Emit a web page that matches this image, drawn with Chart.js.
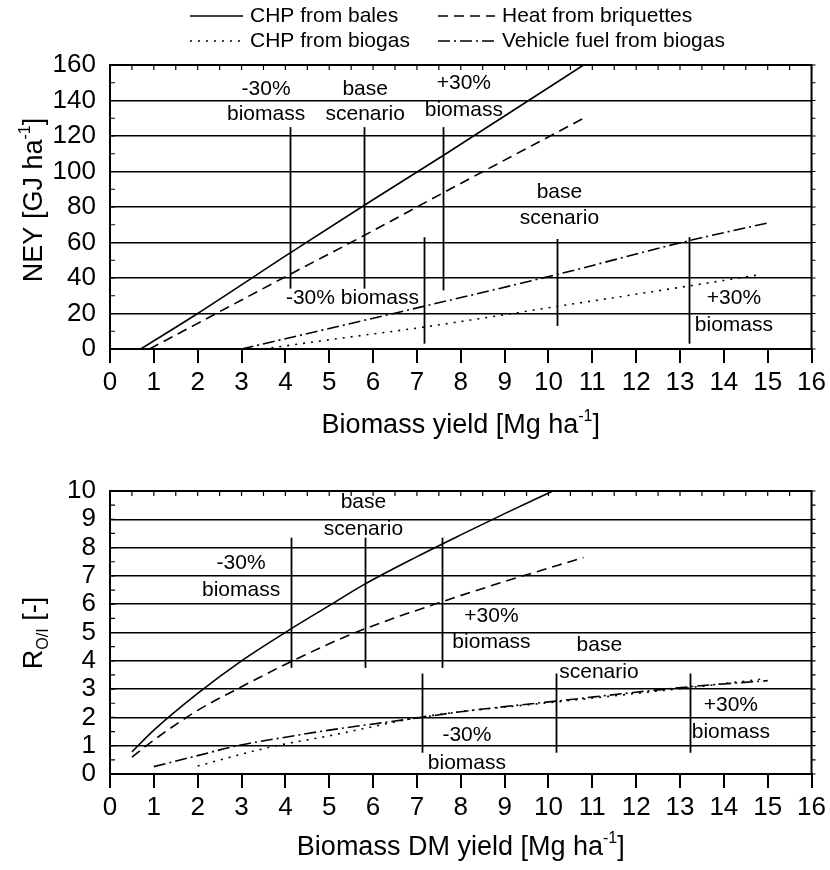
<!DOCTYPE html>
<html>
<head>
<meta charset="utf-8">
<script src="https://cdn.jsdelivr.net/npm/chart.js@4.4.1/dist/chart.umd.min.js"></script>
<style>
  html, body { margin: 0; padding: 0; background: #fff; }
  .box { position: absolute; left: 0; width: 830px; }
</style>
</head>
<body>
<div class="box" style="top:0;height:450px"><canvas id="ney" width="830" height="450"></canvas></div>
<div class="box" style="top:450px;height:420px"><canvas id="roi" width="830" height="420"></canvas></div>
<script>
/* ---------- data ---------- */
const seriesNames = ["CHP from bales", "Heat from briquettes", "CHP from biogas", "Vehicle fuel from biogas"];

// upper panel: NEY [GJ ha-1] vs biomass yield [Mg ha-1]
const neyBalesX = [0.7, 2, 4.1, 5.8, 7.6, 10.8];
const neyBalesY = [0, 20, 54, 81, 109, 160];
const neyBriqX = [0.9, 4.1, 5.8, 7.6, 10.8];
const neyBriqY = [0, 42, 64, 88, 130];
const neyBiogasX = [3.5, 5, 7.2, 10.2, 13.2, 14.85];
const neyBiogasY = [0, 5.2, 12.5, 24, 35.5, 42];
const neyFuelX = [3, 7.15, 10.2, 13.2, 15];
const neyFuelY = [0, 24, 42, 61, 71];

// lower panel: R O/I [-] vs biomass DM yield
const roiBalesX = [0.5, 1, 2, 3, 4.1, 5, 5.8, 7, 8, 9, 10.1];
const roiBalesY = [0.78, 1.55, 2.85, 4.0, 5.1, 5.95, 6.7, 7.68, 8.45, 9.2, 10];
const roiBriqX = [0.5, 1, 2, 2.9, 4.1, 5.6, 7.6, 9, 10.8];
const roiBriqY = [0.6, 1.2, 2.25, 3.0, 3.95, 5.0, 6.1, 6.8, 7.65];
const roiBiogasX = [2, 3, 3.8, 5, 7.05, 8, 10.2, 13.2, 14.85];
const roiBiogasY = [0.28, 0.7, 1.0, 1.35, 2.0, 2.2, 2.55, 3.05, 3.35];
const roiFuelX = [1, 2, 2.9, 4, 5, 7.1, 8, 10.2, 13.2, 15];
const roiFuelY = [0.26, 0.65, 1.0, 1.3, 1.55, 2.0, 2.2, 2.58, 3.08, 3.3];

// scenario marker lines (x, from, to)
const neyMarkerX = [4.1, 5.8, 7.6, 7.15, 10.2, 13.2];
const neyMarkerFrom = [34, 34, 33, 3, 13, 3];
const neyMarkerTo = [125, 125, 125, 63, 62, 63];
const roiMarkerX = [4.13, 5.82, 7.58, 7.12, 10.17, 13.23];
const roiMarkerFrom = [3.75, 3.75, 3.75, 0.75, 0.75, 0.75];
const roiMarkerTo = [8.35, 8.35, 8.35, 3.55, 3.55, 3.55];

// tick labels (min, max, step)
const xTicks = [0, 16, 1];
const neyTicks = [0, 160, 20];
const roiTicks = [0, 10, 1];

/* ---------- annotation text (placed in data units) ---------- */
const neyNotes = [
  { x: 3.56, y: 146.5, t: "-30%" }, { x: 3.56, y: 132.4, t: "biomass" },
  { x: 5.82, y: 146.5, t: "base" }, { x: 5.82, y: 132.4, t: "scenario" },
  { x: 8.07, y: 149.9, t: "+30%" }, { x: 8.07, y: 134.6, t: "biomass" },
  { x: 5.53, y: 28.7, t: "-30% biomass" },
  { x: 10.25, y: 88.6, t: "base" }, { x: 10.25, y: 73.8, t: "scenario" },
  { x: 14.23, y: 28.7, t: "+30%" }, { x: 14.23, y: 13.5, t: "biomass" }
];
const roiNotes = [
  { x: 2.99, y: 7.46, t: "-30%" }, { x: 2.99, y: 6.5, t: "biomass" },
  { x: 5.78, y: 9.59, t: "base" }, { x: 5.78, y: 8.66, t: "scenario" },
  { x: 8.7, y: 5.56, t: "+30%" }, { x: 8.7, y: 4.64, t: "biomass" },
  { x: 8.14, y: 1.38, t: "-30%" }, { x: 8.14, y: 0.39, t: "biomass" },
  { x: 11.16, y: 4.56, t: "base" }, { x: 11.15, y: 3.59, t: "scenario" },
  { x: 14.16, y: 2.44, t: "+30%" }, { x: 14.16, y: 1.49, t: "biomass" }
];

const FONT = '"Liberation Sans", Arial, Helvetica, sans-serif';
const dashes = [[], [10, 6], [2, 6], [12, 4, 2, 4]];

function pts(xs, ys) { return xs.map((x, i) => ({ x, y: ys[i] })); }

function makeSets(groups) {
  return groups.map((g, i) => ({
    label: seriesNames[i],
    data: pts(g[0], g[1]),
    showLine: true,
    borderColor: "#000",
    borderWidth: 1.6,
    borderDash: dashes[i],
    pointRadius: 0,
    cubicInterpolationMode: "monotone",
    fill: false
  }));
}

// draws text with super/subscript pieces, centred on (cx, cy)
function richText(ctx, parts, cx, cy, size, rot) {
  ctx.save();
  ctx.translate(cx, cy);
  ctx.rotate(rot || 0);
  ctx.fillStyle = "#000";
  ctx.textBaseline = "alphabetic";
  let w = 0;
  parts.forEach(p => {
    ctx.font = Math.round(size * (p.s || 1)) + "px " + FONT;
    p.w = ctx.measureText(p.t).width;
    w += p.w;
  });
  let x = -w / 2;
  const base = size * 0.36;
  parts.forEach(p => {
    ctx.font = Math.round(size * (p.s || 1)) + "px " + FONT;
    ctx.textAlign = "left";
    ctx.fillText(p.t, x, base + (p.dy || 0) * size);
    x += p.w;
  });
  ctx.restore();
}

function makeDeco(cfg) {
  return {
    id: "deco",
    afterDatasetsDraw(chart) {
      const { ctx, chartArea: a, scales: { x, y } } = chart;
      ctx.save();
      // scenario markers
      ctx.strokeStyle = "#000";
      ctx.lineWidth = 1.8;
      cfg.mx.forEach((v, i) => {
        const px = Math.round(x.getPixelForValue(v)) + 0.5;
        ctx.beginPath();
        ctx.moveTo(px, y.getPixelForValue(cfg.mFrom[i]));
        ctx.lineTo(px, y.getPixelForValue(cfg.mTo[i]));
        ctx.stroke();
      });
      // annotation text
      ctx.fillStyle = "#000";
      ctx.font = "21px " + FONT;
      ctx.textAlign = "center";
      ctx.textBaseline = "middle";
      cfg.notes.forEach(n => ctx.fillText(n.t, x.getPixelForValue(n.x), y.getPixelForValue(n.y)));

      // frame
      ctx.lineWidth = 2;
      ctx.strokeRect(a.left, a.top, a.right - a.left, a.bottom - a.top);

      // minor ticks: top (every 0.5 x), left/right (half of y step)
      ctx.lineWidth = 1.2;
      ctx.beginPath();
      for (let v = x.min; v <= x.max; v += 0.5) {
        const px = x.getPixelForValue(v);
        ctx.moveTo(px, a.top); ctx.lineTo(px, a.top + 5);
      }
      const half = cfg.yStep / 2;
      for (let v = y.min; v <= y.max + 1e-9; v += half) {
        const py = y.getPixelForValue(v);
        ctx.moveTo(a.left, py); ctx.lineTo(a.left + 5, py);
        ctx.moveTo(a.right, py); ctx.lineTo(a.right + 4, py);
      }
      ctx.stroke();
      ctx.restore();
    },
    afterDraw(chart) {
      const { ctx, chartArea: a } = chart;
      const H = chart.height;
      richText(ctx, cfg.xTitle, (a.left + a.right) / 2, H - cfg.xTitleOff, 27, 0);
      richText(ctx, cfg.yTitle, 32, cfg.yTitleY, 27, -Math.PI / 2);

      if (cfg.legend) {
        ctx.save();
        ctx.strokeStyle = "#000";
        ctx.lineWidth = 1.6;
        ctx.fillStyle = "#000";
        ctx.font = "21px " + FONT;
        ctx.textAlign = "left";
        ctx.textBaseline = "middle";
        const cols = [[190, 243, 250], [438, 495, 502]];
        const rows = [16, 41];
        const order = [[0, 0, 0], [1, 1, 0], [2, 0, 1], [3, 1, 1]];
        order.forEach(([si, c, r]) => {
          const [x0, x1, tx] = cols[c];
          const yy = rows[r];
          ctx.setLineDash(dashes[si]);
          ctx.beginPath();
          ctx.moveTo(x0, yy); ctx.lineTo(x1, yy);
          ctx.stroke();
          ctx.setLineDash([]);
          ctx.fillText(seriesNames[si], tx, yy);
        });
        ctx.restore();
      }
    }
  };
}

function makeOptions(yTicks, padTop, xHeight) {
  return {
    responsive: false,
    animation: false,
    devicePixelRatio: 1,
    layout: { padding: { top: padTop, right: 16, left: 0, bottom: 0 } },
    plugins: { legend: { display: false }, tooltip: { enabled: false } },
    scales: {
      x: {
        type: "linear",
        min: xTicks[0], max: xTicks[1],
        afterFit: s => { s.height = xHeight; },
        ticks: { stepSize: xTicks[2], autoSkip: false, color: "#000", padding: 4, font: { family: FONT, size: 26 } },
        grid: { drawOnChartArea: false, drawTicks: true, tickLength: 14, color: "#000", lineWidth: 2 },
        border: { display: true, color: "#000", width: 2 }
      },
      y: {
        type: "linear",
        min: yTicks[0], max: yTicks[1],
        afterFit: s => { s.width = 110; },
        ticks: { stepSize: yTicks[2], autoSkip: false, color: "#000", padding: 14, font: { family: FONT, size: 26 } },
        grid: { drawTicks: false, color: "#000", lineWidth: 1.5 },
        border: { display: true, color: "#000", width: 2 }
      }
    }
  };
}

new Chart(document.getElementById("ney"), {
  type: "scatter",
  data: {
    datasets: makeSets([[neyBalesX, neyBalesY], [neyBriqX, neyBriqY], [neyBiogasX, neyBiogasY], [neyFuelX, neyFuelY]])
  },
  options: makeOptions(neyTicks, 65, 101),
  plugins: [makeDeco({
    mx: neyMarkerX, mFrom: neyMarkerFrom, mTo: neyMarkerTo, notes: neyNotes, yStep: neyTicks[2],
    xTitle: [{ t: "Biomass yield [Mg ha" }, { t: "-1", s: 0.6, dy: -0.42 }, { t: "]" }],
    yTitle: [{ t: "NEY [GJ ha" }, { t: "-1", s: 0.6, dy: -0.42 }, { t: "]" }],
    xTitleOff: 27, yTitleY: 200, legend: true
  })]
});

new Chart(document.getElementById("roi"), {
  type: "scatter",
  data: {
    datasets: makeSets([[roiBalesX, roiBalesY], [roiBriqX, roiBriqY], [roiBiogasX, roiBiogasY], [roiFuelX, roiFuelY]])
  },
  options: makeOptions(roiTicks, 41, 96),
  plugins: [makeDeco({
    mx: roiMarkerX, mFrom: roiMarkerFrom, mTo: roiMarkerTo, notes: roiNotes, yStep: roiTicks[2],
    xTitle: [{ t: "Biomass DM yield [Mg ha" }, { t: "-1", s: 0.6, dy: -0.42 }, { t: "]" }],
    yTitle: [{ t: "R" }, { t: "O/I", s: 0.6, dy: 0.25 }, { t: " [-]" }],
    xTitleOff: 25, yTitleY: 183, legend: false
  })]
});
</script>
</body>
</html>
